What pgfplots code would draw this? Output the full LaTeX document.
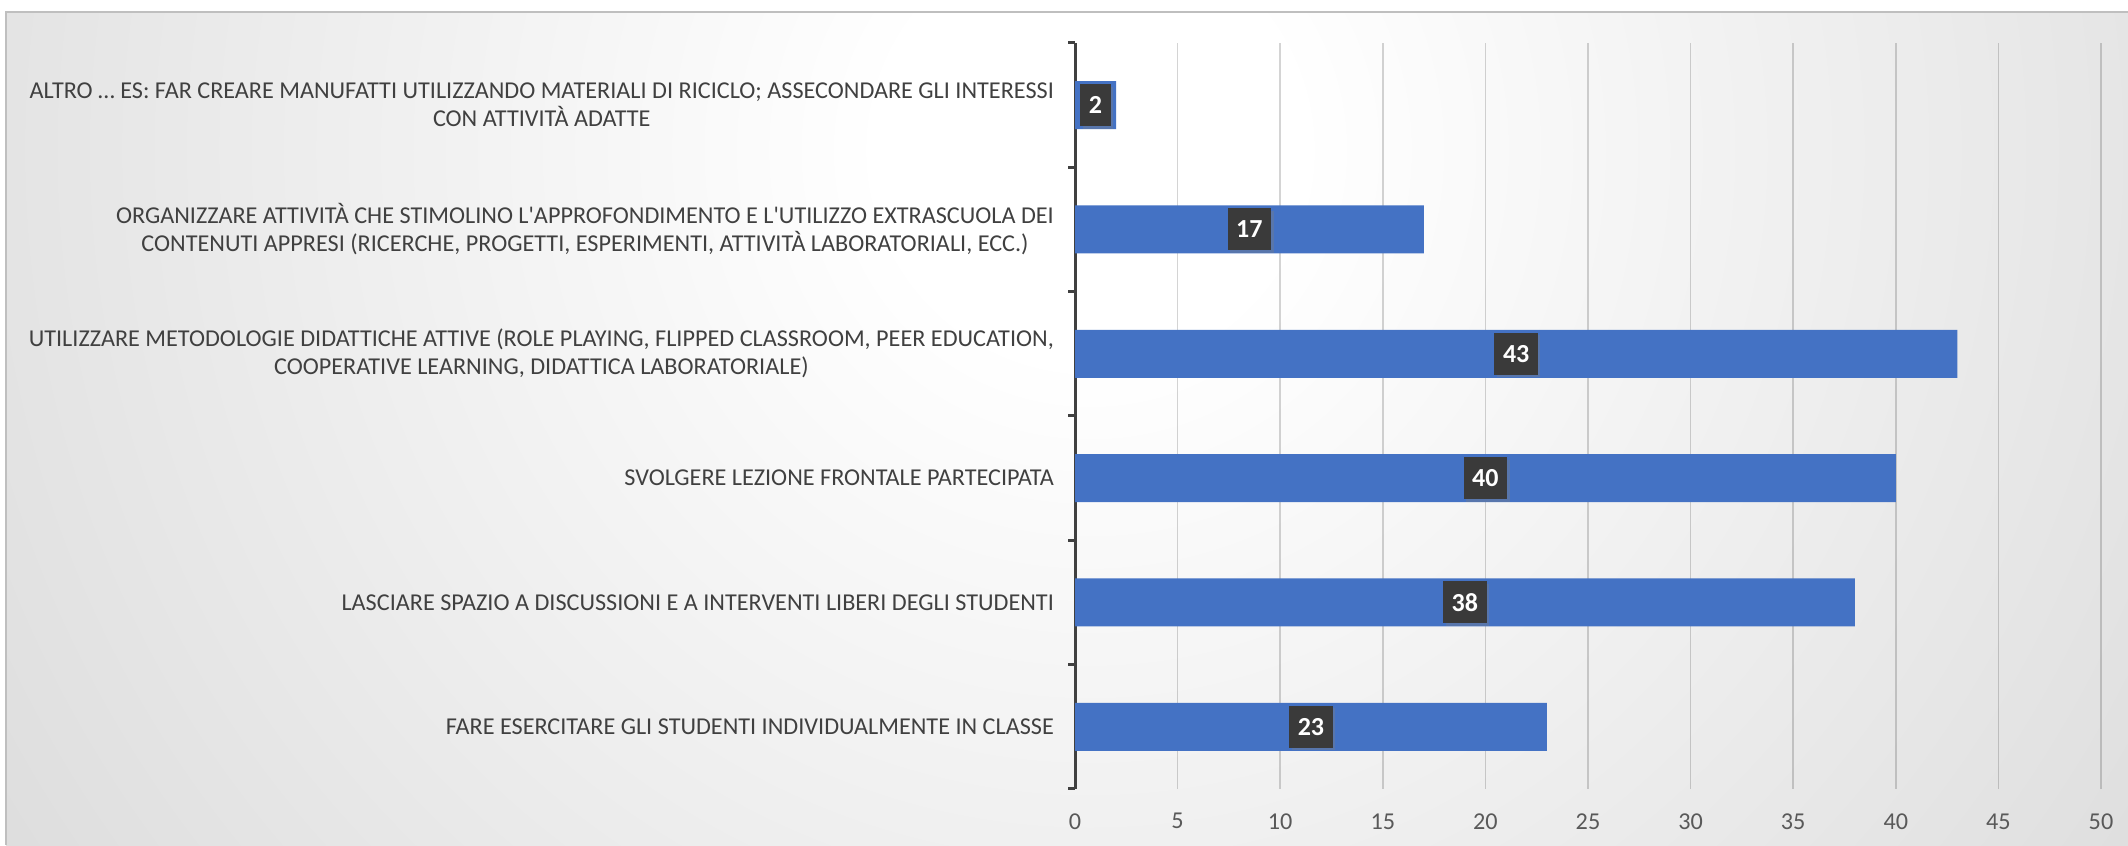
\documentclass[border=0pt]{standalone}
\usepackage{pgfplots}
\pgfplotsset{compat=1.18}
\usepackage{pgfplotstable}
\usepackage{fontspec}
\setmainfont{Carlito}
\usetikzlibrary{shadows}
\definecolor{barblue}{HTML}{4472C4}
\definecolor{lbl}{HTML}{404040}
\definecolor{tck}{HTML}{595959}
\definecolor{boxc}{HTML}{3A3A3A}
\pgfdeclareradialshading{bgshade}{\pgfpoint{0bp}{0bp}}{rgb(0bp)=(1,1,1); rgb(4bp)=(1,1,1); rgb(50bp)=(0.71,0.71,0.71)}
\pgfplotstableread{
y v
0 23
1 38
2 40
3 43
4 17
5 2
}\data
\begin{document}
\begin{tikzpicture}
\useasboundingbox (0,0) rectangle (1064pt,422.5pt);
\fill[white] (0,0) rectangle (1064pt,422.5pt);
\begin{scope}
\clip (3pt,0pt) rectangle (1064pt,416.5pt);
\shade[shading=bgshade] (545pt,347.5pt) circle (650pt);
\end{scope}
\draw[color=black!25, line width=1pt] (3pt,0pt) -- (3pt,416.5pt) -- (1064pt,416.5pt);
\begin{axis}[
  at={(537.5pt,28pt)}, anchor=south west,
  scale only axis, width=513pt, height=373pt,
  xmin=0, xmax=50, ymin=-0.5, ymax=5.5,
  axis lines=left,
  x axis line style={draw=none},
  y axis line style={-, draw=lbl, line width=1.5pt},
  xtick={0,5,...,50},
  xtick style={draw=none},
  ytick={0,...,5},
  yticklabels={
    {FARE ESERCITARE GLI STUDENTI INDIVIDUALMENTE IN CLASSE},
    {LASCIARE SPAZIO A DISCUSSIONI E A INTERVENTI LIBERI DEGLI STUDENTI},
    {SVOLGERE LEZIONE FRONTALE PARTECIPATA},
    {UTILIZZARE METODOLOGIE DIDATTICHE ATTIVE (ROLE PLAYING, FLIPPED CLASSROOM, PEER EDUCATION,\\COOPERATIVE LEARNING, DIDATTICA LABORATORIALE)},
    {ORGANIZZARE ATTIVITÀ CHE STIMOLINO L\textquotesingle APPROFONDIMENTO E L\textquotesingle UTILIZZO EXTRASCUOLA DEI\\CONTENUTI APPRESI (RICERCHE, PROGETTI, ESPERIMENTI, ATTIVITÀ LABORATORIALI, ECC.)},
    {ALTRO … ES: FAR CREARE MANUFATTI UTILIZZANDO MATERIALI DI RICICLO; ASSECONDARE GLI INTERESSI\\CON ATTIVITÀ ADATTE}
  },
  minor ytick={-0.5,0.5,...,5.5},
  tick align=outside,
  major tick length=0pt,
  minor tick length=3.5pt,
  minor tick style={draw=lbl, line width=1.5pt},
  ytick style={draw=lbl},
  xmajorgrids,
  major grid style={draw=black, opacity=0.17, line width=0.8pt},
  yticklabel style={font=\fontsize{12.1}{14}\selectfont, text=lbl, align=center, xshift=-7pt},
  xticklabel style={font=\fontsize{12.1}{14}\selectfont, text=tck, yshift=-8.7pt},
  /pgf/number format/assume math mode=true,
  clip=false,
]
\addplot[xbar, bar width=24pt, fill=barblue, draw=none] table[x=v, y=y] {\data};
\addplot[draw=none, mark=none, point meta=explicit symbolic,
  nodes near coords, nodes near coords align={center},
  every node near coord/.append style={anchor=center, fill=boxc, text=white,
    font=\fontsize{13}{15}\selectfont\bfseries, inner xsep=4.3pt, inner ysep=0pt,
    minimum height=21pt,
    drop shadow={opacity=0.35, shadow xshift=1.2pt, shadow yshift=-1.2pt}}]
  table[x expr=\thisrow{v}/2, y=y, meta=v] {\data};
\end{axis}
\end{tikzpicture}
\end{document}
